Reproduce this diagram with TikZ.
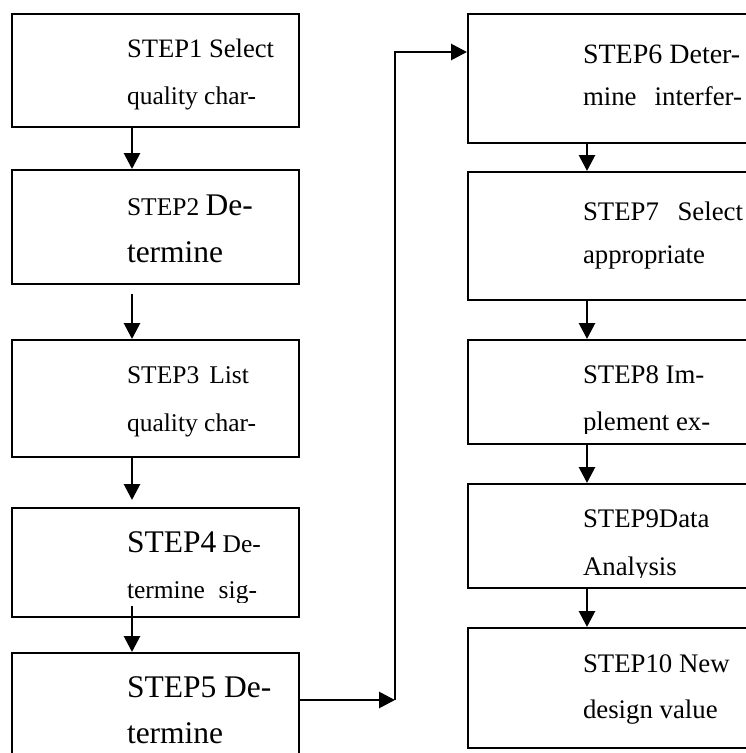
\documentclass[tikz,border=0pt]{standalone}
\usepackage{fontspec}
\setmainfont{Liberation Serif}
\usetikzlibrary{arrows.meta}
% type sizes used in the boxes
\newcommand\fsSmall{\fontsize{25.5pt}{25.5pt}\selectfont}
\newcommand\fsBig{\fontsize{31.5pt}{31.5pt}\selectfont}
\newcommand\fsRight{\fontsize{26.8pt}{26.8pt}\selectfont}
\begin{document}
\begin{tikzpicture}[x=1pt,y=-1pt,
  stepbox/.style={draw, line width=2pt, rectangle, inner sep=0pt, anchor=north west},
  leftbox/.style={stepbox, minimum width=287pt},
  rightbox/.style={stepbox, minimum width=300pt},
  txt/.style={anchor=base west, inner sep=0pt, outer sep=0pt},
  arr/.style={line width=2.8pt, -{Triangle[length=16pt,width=16pt]}},
]
\useasboundingbox (0,0) rectangle (745,753);

% ---- left column ----
\node[leftbox, minimum height=113pt] (s1) at (11,13) {};
\node[leftbox, minimum height=114pt] (s2) at (11,169) {};
\node[leftbox, minimum height=117pt] (s3) at (11,339) {};
\node[leftbox, minimum height=109pt] (s4) at (11,507) {};
\node[leftbox, minimum height=130pt] (s5) at (11,652) {};

% ---- right column (runs past the right edge) ----
\node[rightbox, minimum height=129pt] (s6) at (467,13) {};
\node[rightbox, minimum height=128pt] (s7) at (467,171) {};
\node[rightbox, minimum height=104pt] (s8) at (467,339) {};
\node[rightbox, minimum height=104pt] (s9) at (467,483) {};
\node[rightbox, minimum height=120pt] (s10) at (467,627) {};

% ---- box texts, clipped to the text frame of each box ----
\begin{scope}
  \clip (s1.north west) rectangle ([yshift=12pt]s1.south east);
  \node[txt] (t1a) at (127,57) {\fontsize{26.6pt}{26.6pt}\selectfont STEP1 Select};
  \node[txt] (t1b) at (127,104) {\fsSmall quality char-};
\end{scope}
\begin{scope}
  \clip (s2.north west) rectangle ([yshift=12pt]s2.south east);
  \node[txt] (t2a) at (127,215) {{\fsSmall STEP2 }{\fsBig De-}};
  \node[txt] (t2b) at (127,262) {\fsBig termine};
\end{scope}
\begin{scope}
  \clip (s3.north west) rectangle ([yshift=12pt]s3.south east);
  \node[txt] (t3a) at (127,383) {\fsSmall\makebox[122pt][s]{STEP3 List}};
  \node[txt] (t3b) at (127,431) {\fsSmall quality char-};
\end{scope}
\begin{scope}
  \clip (s4.north west) rectangle ([yshift=16pt]s4.south east);
  \node[txt] (t4a) at (127,552) {{\fsBig STEP4}{\fsSmall\ De-}};
  \node[txt] (t4b) at (127,598) {\fsSmall\makebox[130pt][s]{termine sig-}};
\end{scope}
\begin{scope}
  \clip (s5.north west) rectangle ([yshift=12pt]s5.south east);
  \node[txt] (t5a) at (127,697) {\fsBig STEP5 De-};
  \node[txt] (t5b) at (127,743) {\fsBig termine};
\end{scope}
\begin{scope}
  \clip (s6.north west) rectangle ([yshift=12pt]s6.south east);
  \node[txt] (t6a) at (583,63) {\fontsize{28pt}{28pt}\selectfont STEP6 Deter-};
  \node[txt] (t6b) at (583,105) {\fsRight\makebox[159pt][s]{mine interfer-}};
\end{scope}
\begin{scope}
  \clip (s7.north west) rectangle ([yshift=12pt]s7.south east);
  \node[txt] (t7a) at (583,220) {\fsRight\makebox[160pt][s]{STEP7 Select}};
  \node[txt] (t7b) at (583,263) {\fsRight appropriate};
\end{scope}
\begin{scope}
  \clip (s8.north west) rectangle ([yshift=12pt]s8.south east);
  \node[txt] (t8a) at (583,383) {\fsRight STEP8 Im-};
  \node[txt] (t8b) at (583,430) {\fsRight plement ex-};
\end{scope}
\begin{scope}
  \clip (s9.north west) rectangle ([yshift=12pt]s9.south east);
  \node[txt] (t9a) at (583,527) {\fsRight STEP9Data};
  \node[txt] (t9b) at (583,575) {\fsRight Analysis};
\end{scope}
\begin{scope}
  \clip (s10.north west) rectangle ([yshift=12pt]s10.south east);
  \node[txt] (t10a) at (583,672) {\fsRight STEP10 New};
  \node[txt] (t10b) at (583,718) {\fsRight design value};
\end{scope}

% ---- connectors ----
\coordinate (lx) at (132,0);
\coordinate (rx) at (587,0);
\draw[arr] (s1.south -| lx) -- (s2.north -| lx);
\draw[arr, shorten <=9pt] (s2.south -| lx) -- (s3.north -| lx);
\draw[arr, shorten >=7pt] (s3.south -| lx) -- (s4.north -| lx);
\draw[arr, shorten <=-12pt] (s4.south -| lx) -- (s5.north -| lx);

\draw[arr] (s6.south -| rx) -- (s7.north -| rx);
\draw[arr] (s7.south -| rx) -- (s8.north -| rx);
\draw[arr] (s8.south -| rx) -- (s9.north -| rx);
\draw[arr] (s9.south -| rx) -- (s10.north -| rx);

\coordinate (j1) at (395,700);
\coordinate (j2) at (395,52);
\draw[arr] (s5.east |- j1) -- (j1);
\draw[arr] (j1) -- (j2) -- (s6.west |- j2);
\end{tikzpicture}
\end{document}
